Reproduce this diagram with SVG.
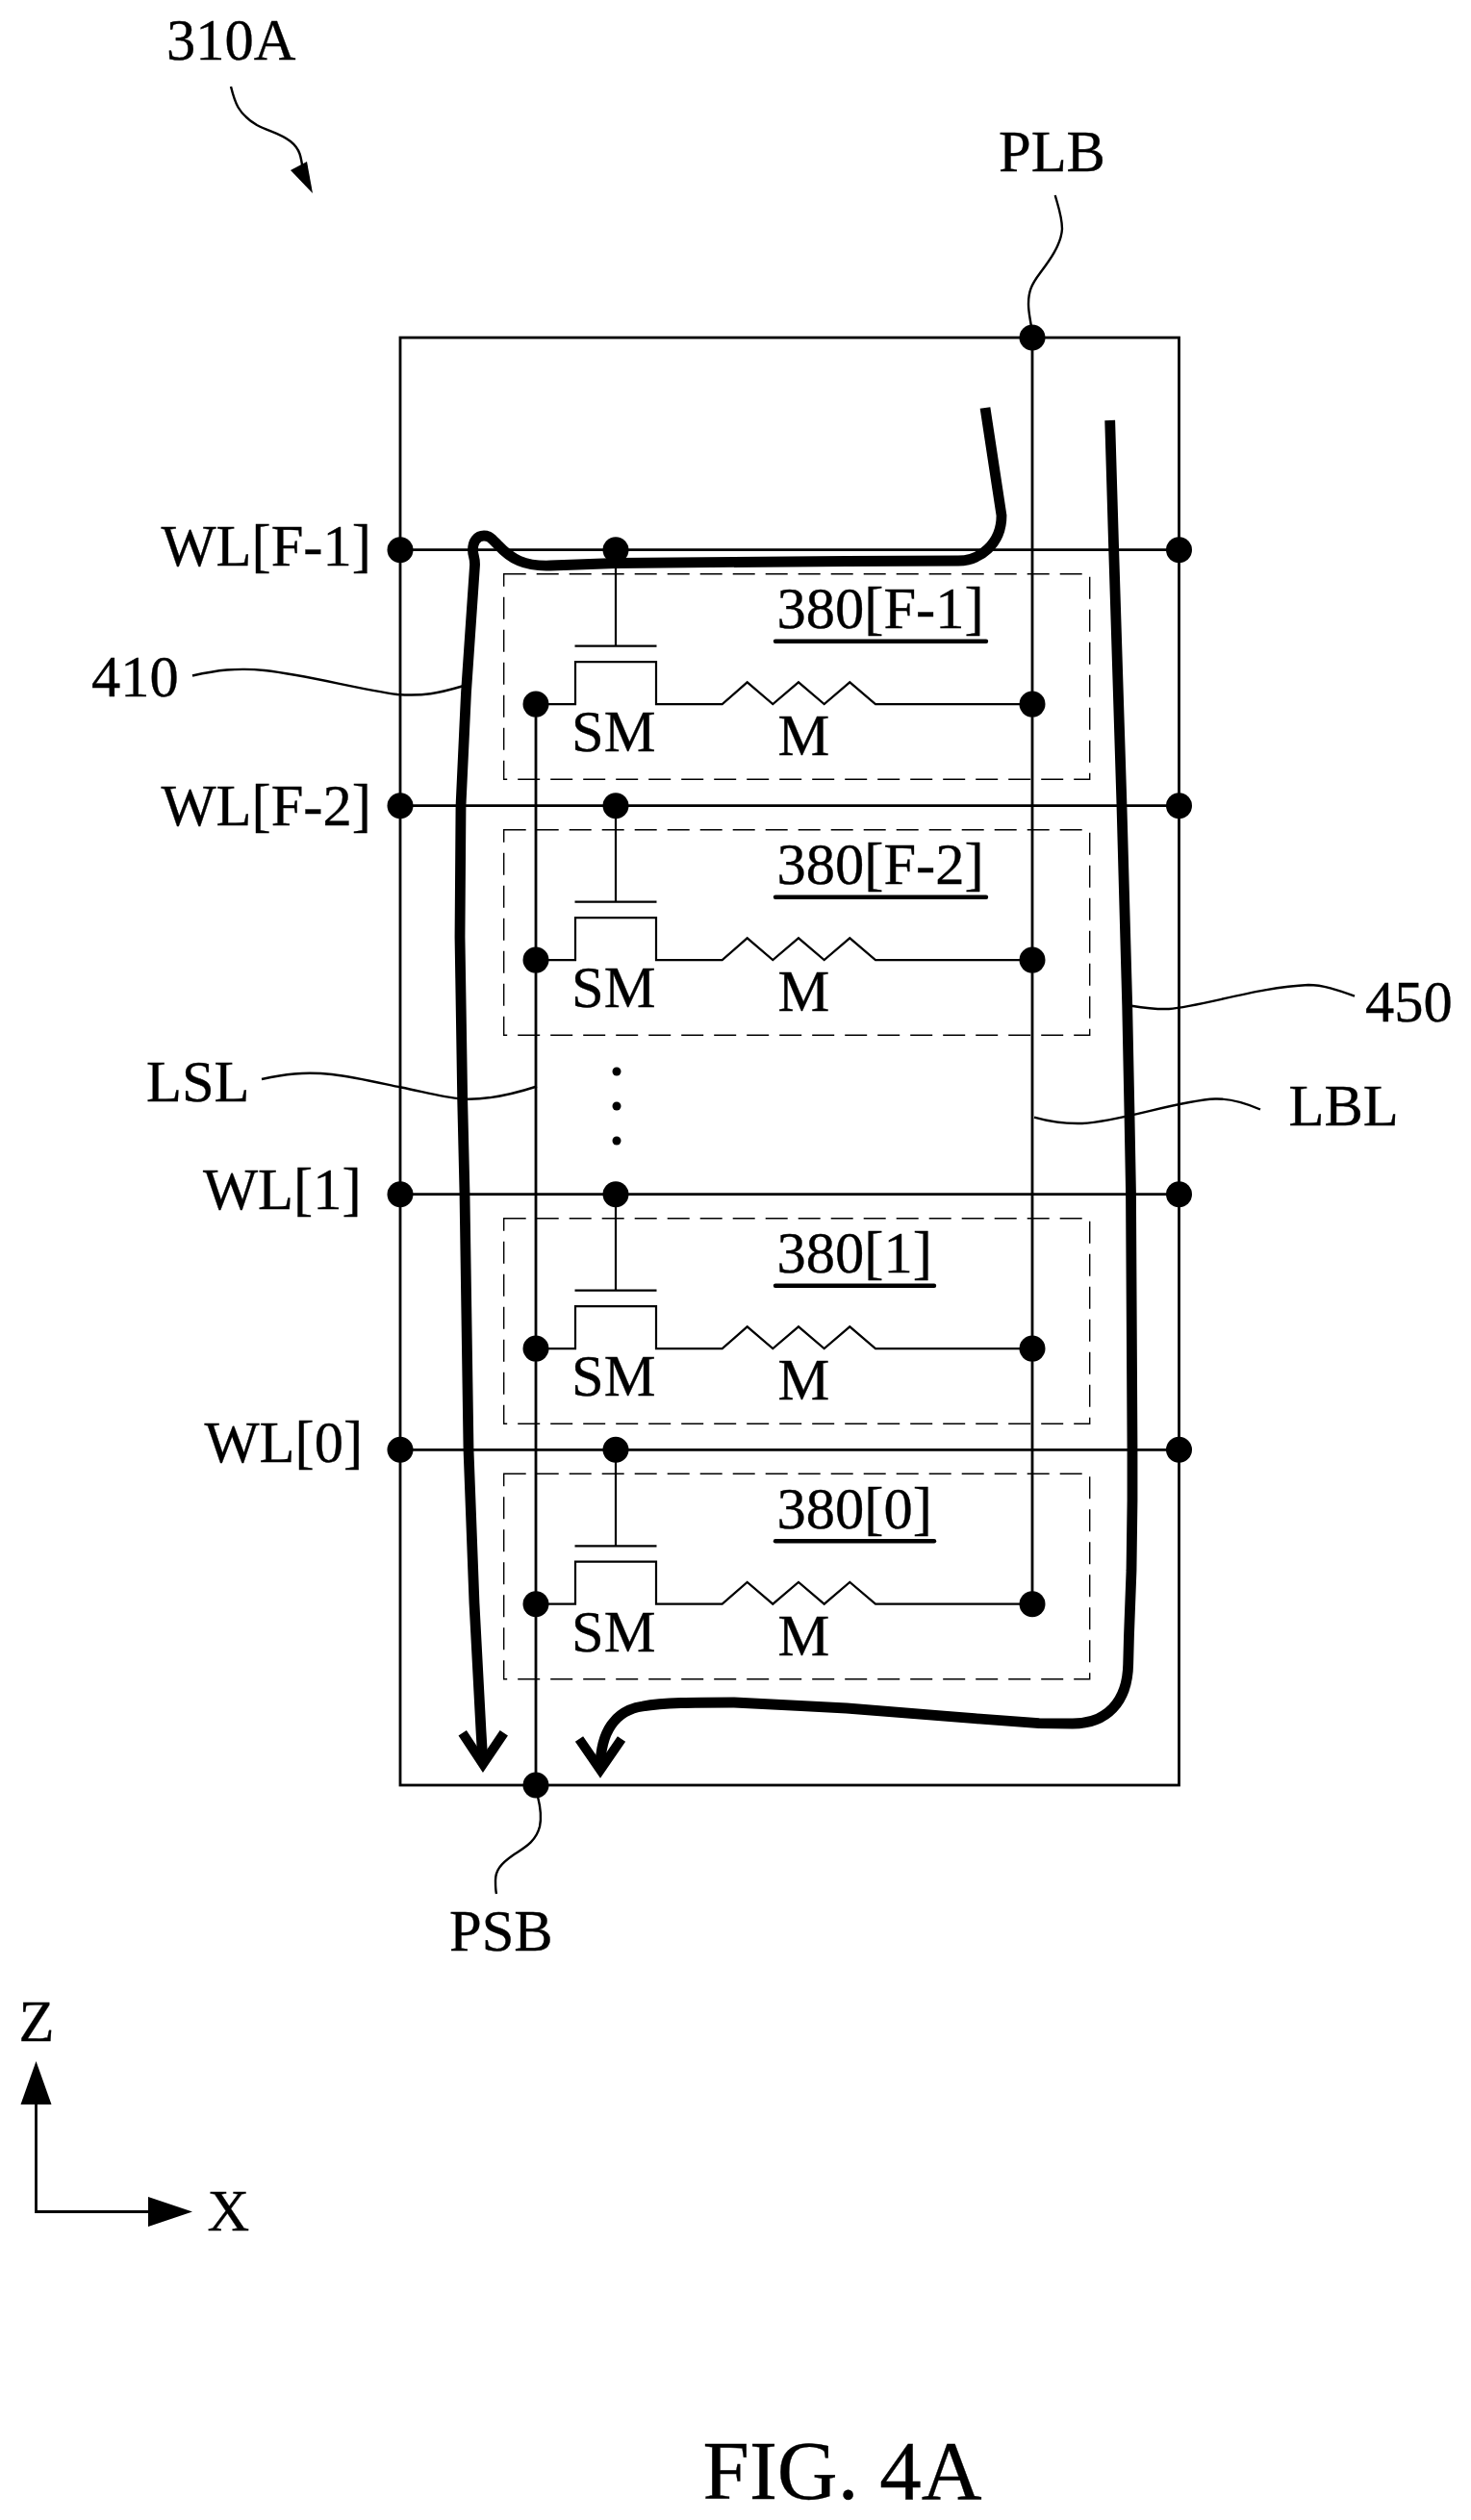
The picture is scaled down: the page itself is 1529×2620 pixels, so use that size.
<svg xmlns="http://www.w3.org/2000/svg" width="1529" height="2620" viewBox="0 0 1529 2620">
<style>
text{font-family:"Liberation Serif","Times New Roman",serif;font-size:60.5px;fill:#000;stroke:#000;stroke-width:.35}
.w{fill:none;stroke:#000;stroke-width:2.8}
.t{fill:none;stroke:#000;stroke-width:2.2}
.lead{fill:none;stroke:#000;stroke-width:2.4}
.thick{fill:none;stroke:#000;stroke-width:10.8;stroke-linejoin:round}
.chev{fill:none;stroke:#000;stroke-width:10;stroke-linejoin:miter;stroke-miterlimit:10}
.dash{fill:none;stroke:#000;stroke-width:1.4;stroke-dasharray:23 11}
.ul{stroke:#000;stroke-width:4.4;stroke-linecap:round}
.d{fill:#000}
</style>
<defs>
<g id="cell">
<rect class="dash" x="523.7" y="25" width="609" height="213.5"/>
<path class="t" d="M640 0V100M597.5 100H682.5"/>
<path class="t" d="M557 160.4H598V116.4H682V160.4H750.7L776.7 137.6L803.3 160.4L830 137.6L856.7 160.4L883.3 137.6L910 160.4H1073"/>
<circle class="d" cx="640" cy="0" r="13.5"/>
<circle class="d" cx="557" cy="160.4" r="13.5"/>
<circle class="d" cx="1073" cy="160.4" r="13.5"/>
<text x="594" y="209.5">SM</text>
<text x="808.5" y="213.5">M</text>
</g>
</defs>
<rect width="1529" height="2620" fill="#fff"/>
<g id="connectors">
<rect class="w" x="416" y="351" width="809.5" height="1505"/>
<path class="w" d="M416 571.7H1225.5M416 837.7H1225.5M416 1241.7H1225.5M416 1507.3H1225.5"/>
<path class="w" d="M557 732V1856M1073 351V1667.7"/>
<path class="lead" d="M240 90C244 106 247 118 267 130C280 137 290 138 302 147C312 155 313 163 315 178"/>
<path class="d" d="M302 177L319 168L325 201Z"/>
<path class="lead" d="M1096.7 203C1101 218 1104 226 1104 238C1103 255 1090 272 1081 284C1072 296 1069 303 1069 316C1069 325 1071 332 1072 340"/>
<path class="lead" d="M559 1868C562 1880 563 1890 561 1899C557 1915 545 1921 533 1929C520 1938 515 1945 515 1955C515 1960 515 1965 516 1969"/>
<path class="lead" d="M200 702.5C225 697 245 694 275 697C320 702 370 716 413 722C440 724 455 721 482 713"/>
<path class="lead" d="M272 1122C295 1117 315 1114 345 1117C370 1120 395 1126 417 1130.5C440 1135 460 1141 480 1142.5C505 1144 535 1137 558 1129.5"/>
<path class="lead" d="M1176 1045.7C1190 1048 1200 1049.5 1215 1049C1250 1046 1310 1026 1360 1024C1375 1024 1390 1029 1408 1035.6"/>
<path class="lead" d="M1075 1161.7C1090 1166 1105 1168.6 1125 1168C1165 1166 1225 1144 1263 1142.5C1278 1142 1295 1147 1310 1153.5"/>
<path class="thick" d="M1024 424L1041 536C1041 566 1018 583 996 583L880 583.5L640 585.5L600 587L572 588C545 589 531 581 518 567C511 560 509 557 503 557C496 557 491.5 563 491.5 572C491.5 578 494 580 493.5 588L484.5 720L479 838L478 974L480.7 1144L483 1241L487 1507L493 1667L500 1800L502 1834"/>
<path class="chev" d="M480.7 1801.7L502 1834L523.8 1801.7"/>
<path class="thick" d="M1153.7 437L1157.7 572L1166 838L1171.7 1045L1174 1159L1175.5 1241L1177 1507L1177 1560L1176 1633L1173.5 1700L1172.7 1730C1172 1770 1150 1792 1115 1792L1080 1791.7L1013 1786.7L880 1776L763 1770C720 1770 690 1770 668 1774C640 1778 624 1800 624 1838"/>
<path class="chev" d="M602 1808L624 1840L646 1808"/>
<path class="w" d="M37.5 2188V2299.5H154"/>
<path class="d" d="M37.5 2143L53.5 2188H21.5Z"/>
<path class="d" d="M200 2299.5L154 2315V2284Z"/>
</g>
<g id="terminals">
<circle class="d" cx="1073" cy="351" r="13.5"/>
<circle class="d" cx="557" cy="1856" r="13.5"/>
<circle class="d" cx="416" cy="571.7" r="13.5"/>
<circle class="d" cx="1225.5" cy="571.7" r="13.5"/>
<circle class="d" cx="416" cy="837.7" r="13.5"/>
<circle class="d" cx="1225.5" cy="837.7" r="13.5"/>
<circle class="d" cx="416" cy="1241.7" r="13.5"/>
<circle class="d" cx="1225.5" cy="1241.7" r="13.5"/>
<circle class="d" cx="416" cy="1507.3" r="13.5"/>
<circle class="d" cx="1225.5" cy="1507.3" r="13.5"/>
<circle class="d" cx="641" cy="1114" r="4.5"/>
<circle class="d" cx="641" cy="1150" r="4.5"/>
<circle class="d" cx="641" cy="1186" r="4.5"/>
</g>
<g id="cell-F-1" transform="translate(0 571.7)"><use href="#cell"/><text x="807.5" y="81.5">380[F-1]</text><line class="ul" x1="806" y1="95" x2="1025" y2="95"/></g>
<g id="cell-F-2" transform="translate(0 837.7)"><use href="#cell"/><text x="807.5" y="81.5">380[F-2]</text><line class="ul" x1="806" y1="95" x2="1025" y2="95"/></g>
<g id="cell-1" transform="translate(0 1241.7)"><use href="#cell"/><text x="807.5" y="81.5">380[1]</text><line class="ul" x1="806" y1="95" x2="971" y2="95"/></g>
<g id="cell-0" transform="translate(0 1507.3)"><use href="#cell"/><text x="807.5" y="81.5">380[0]</text><line class="ul" x1="806" y1="95" x2="971" y2="95"/></g>
<g id="labels">
<text x="173" y="62">310A</text>
<text x="1038" y="178">PLB</text>
<text x="467" y="2028">PSB</text>
<text x="167.5" y="588">WL[F-1]</text>
<text x="167.5" y="857.5">WL[F-2]</text>
<text x="211" y="1257">WL[1]</text>
<text x="212.5" y="1520">WL[0]</text>
<text x="95" y="724">410</text>
<text x="152" y="1145">LSL</text>
<text x="1419" y="1061.7">450</text>
<text x="1339.5" y="1170">LBL</text>
<text x="19.5" y="2122">Z</text>
<text x="215.5" y="2318.5">X</text>
<text x="730.5" y="2598" style="font-size:87px">FIG. 4A</text>
</g>
</svg>
